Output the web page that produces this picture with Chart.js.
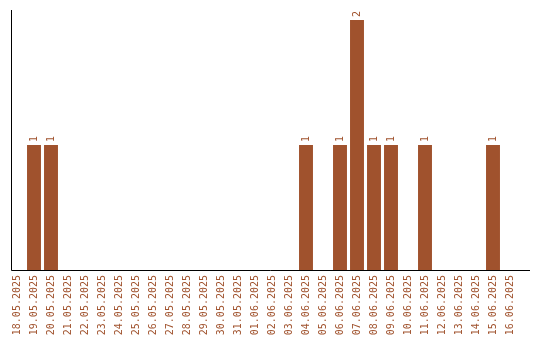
<!DOCTYPE html>
<html>
<head>
<meta charset="utf-8">
<script src="https://cdn.jsdelivr.net/npm/chart.js@4/dist/chart.umd.min.js"></script>
<style>
html,body{margin:0;padding:0;background:#fff;}
#wrap{width:540px;height:340px;position:relative;}
</style>
</head>
<body>
<div id="wrap"><canvas id="c" width="540" height="340"></canvas></div>
<script>
const categories = ["18.05.2025","19.05.2025","20.05.2025","21.05.2025","22.05.2025","23.05.2025","24.05.2025","25.05.2025","26.05.2025","27.05.2025","28.05.2025","29.05.2025","30.05.2025","31.05.2025","01.06.2025","02.06.2025","03.06.2025","04.06.2025","05.06.2025","06.06.2025","07.06.2025","08.06.2025","09.06.2025","10.06.2025","11.06.2025","12.06.2025","13.06.2025","14.06.2025","15.06.2025","16.06.2025"];
const counts = [0,1,1,0,0,0,0,0,0,0,0,0,0,0,0,0,0,1,0,1,2,1,1,0,1,0,0,0,1,0];

const COLOR = '#a0522d';
const FONT = '"DejaVu Sans Mono", "Liberation Mono", monospace';

const axisLines = {
  id: 'axisLines',
  afterDatasetsDraw(chart) {
    const {ctx} = chart;
    const x = chart.scales.x, y = chart.scales.y;
    const left = x.left + 2.5;
    const right = x.right + 11.5;
    const base = Math.round(y.getPixelForValue(0)) + 0.5;
    const top = y.top;
    ctx.save();
    ctx.strokeStyle = '#000';
    ctx.lineWidth = 1;
    ctx.beginPath();
    ctx.moveTo(Math.round(left) + 0.5, top);
    ctx.lineTo(Math.round(left) + 0.5, base);
    ctx.lineTo(right, base);
    ctx.stroke();
    ctx.restore();
  }
};

const valueLabels = {
  id: 'valueLabels',
  afterDatasetsDraw(chart) {
    const {ctx} = chart;
    const meta = chart.getDatasetMeta(0);
    ctx.save();
    ctx.fillStyle = COLOR;
    ctx.font = '10px ' + FONT;
    ctx.textAlign = 'left';
    ctx.textBaseline = 'middle';
    meta.data.forEach((bar, i) => {
      const v = counts[i];
      if (!v) return;
      ctx.save();
      ctx.translate(bar.x, bar.y - 3);
      ctx.rotate(-Math.PI / 2);
      ctx.fillText(String(v), 0, 0);
      ctx.restore();
    });
    ctx.restore();
  }
};

new Chart(document.getElementById('c'), {
  type: 'bar',
  data: {
    labels: categories,
    datasets: [{
      data: counts,
      backgroundColor: COLOR,
      borderWidth: 0,
      categoryPercentage: 1,
      barPercentage: 0.82
    }]
  },
  options: {
    responsive: false,
    animation: false,
    devicePixelRatio: 1,
    layout: { padding: { left: 8.5, right: 21.5, top: 10, bottom: 0 } },
    plugins: { legend: { display: false }, tooltip: { enabled: false } },
    scales: {
      x: {
        offset: true,
        grid: { display: false, drawTicks: false },
        border: { display: false },
        ticks: {
          color: COLOR,
          font: { family: FONT, size: 10 },
          minRotation: 90,
          maxRotation: 90,
          autoSkip: false,
          padding: 5
        },
        afterFit(scale) { scale.height = 70; },
        afterSetDimensions(scale) { scale.paddingLeft = 0; scale.paddingRight = 0; }
      },
      y: {
        display: false,
        min: 0,
        max: 2.08,
        grid: { display: false }
      }
    }
  },
  plugins: [axisLines, valueLabels]
});
</script>
</body>
</html>
